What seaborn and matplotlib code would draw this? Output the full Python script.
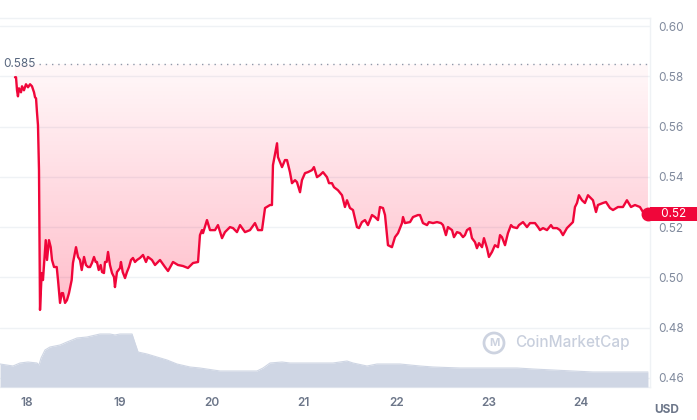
import numpy as np
import pandas as pd
import matplotlib
matplotlib.use("Agg")
import matplotlib.pyplot as plt
import matplotlib.transforms as mtransforms
from matplotlib.patches import Circle
import seaborn as sns

# price, USD (day of month)
price_day = [17.870, 17.881, 17.892, 17.902, 17.913, 17.935, 17.946, 17.967, 17.989, 18.011,
             18.033, 18.054, 18.076, 18.087, 18.098, 18.108, 18.119, 18.130, 18.141, 18.159,
             18.173, 18.203, 18.217, 18.238, 18.257, 18.271, 18.293, 18.322, 18.336, 18.358,
             18.376, 18.390, 18.412, 18.433, 18.455, 18.484, 18.498, 18.531, 18.553, 18.574,
             18.593, 18.618, 18.639, 18.661, 18.683, 18.704, 18.726, 18.744, 18.758, 18.777,
             18.798, 18.813, 18.834, 18.845, 18.863, 18.878, 18.899, 18.921, 18.943, 18.953,
             18.975, 19.008, 19.018, 19.037, 19.062, 19.083, 19.105, 19.127, 19.148, 19.170,
             19.192, 19.224, 19.257, 19.289, 19.311, 19.354, 19.387, 19.441, 19.495, 19.528,
             19.582, 19.636, 19.690, 19.744, 19.799, 19.853, 19.874, 19.896, 19.907, 19.950,
             19.983, 20.037, 20.069, 20.113, 20.145, 20.199, 20.232, 20.275, 20.308, 20.362,
             20.416, 20.470, 20.503, 20.546, 20.579, 20.633, 20.654, 20.665, 20.709, 20.719,
             20.763, 20.795, 20.817, 20.849, 20.871, 20.904, 20.925, 20.958, 20.979, 21.012,
             21.044, 21.088, 21.109, 21.142, 21.174, 21.207, 21.250, 21.272, 21.304, 21.326,
             21.369, 21.413, 21.445, 21.467, 21.499, 21.532, 21.575, 21.597, 21.629, 21.662,
             21.694, 21.738, 21.770, 21.803, 21.824, 21.857, 21.879, 21.911, 21.954, 21.987,
             22.020, 22.063, 22.074, 22.095, 22.150, 22.182, 22.236, 22.258, 22.290, 22.334,
             22.355, 22.399, 22.442, 22.485, 22.507, 22.539, 22.561, 22.605, 22.626, 22.659,
             22.691, 22.724, 22.745, 22.767, 22.799, 22.821, 22.854, 22.875, 22.897, 22.930,
             22.951, 22.984, 23.005, 23.038, 23.070, 23.103, 23.125, 23.146, 23.179, 23.211,
             23.244, 23.265, 23.309, 23.330, 23.374, 23.417, 23.450, 23.504, 23.537, 23.558,
             23.591, 23.634, 23.677, 23.699, 23.742, 23.775, 23.807, 23.850, 23.883, 23.915,
             23.937, 23.959, 23.980, 24.013, 24.045, 24.078, 24.110, 24.132, 24.165, 24.186,
             24.240, 24.273, 24.316, 24.349, 24.403, 24.457, 24.500, 24.544, 24.587, 24.641,
             24.674, 24.695, 24.728]
price_usd = [0.5797, 0.5797, 0.5745, 0.5721, 0.5753, 0.5737, 0.5761, 0.5745, 0.5769, 0.5757,
             0.5769, 0.5761, 0.5737, 0.5717, 0.5713, 0.5658, 0.5606, 0.5427, 0.4870, 0.5017,
             0.4989, 0.5148, 0.5069, 0.5148, 0.5120, 0.5069, 0.5041, 0.5041, 0.4989, 0.4898,
             0.4937, 0.4937, 0.4898, 0.4909, 0.4937, 0.4989, 0.5057, 0.5120, 0.5081, 0.5069,
             0.5029, 0.5081, 0.5049, 0.5041, 0.5041, 0.5057, 0.5081, 0.5061, 0.5061, 0.5029,
             0.5049, 0.5021, 0.5017, 0.5061, 0.5061, 0.5101, 0.5049, 0.5017, 0.5001, 0.4961,
             0.5021, 0.5037, 0.5061, 0.5021, 0.4997, 0.5021, 0.5041, 0.5069, 0.5077, 0.5061,
             0.5069, 0.5077, 0.5089, 0.5061, 0.5081, 0.5069, 0.5049, 0.5069, 0.5041, 0.5025,
             0.5061, 0.5049, 0.5045, 0.5037, 0.5057, 0.5061, 0.5168, 0.5188, 0.5176, 0.5228,
             0.5188, 0.5188, 0.5208, 0.5156, 0.5180, 0.5200, 0.5196, 0.5180, 0.5208, 0.5180,
             0.5188, 0.5216, 0.5188, 0.5188, 0.5276, 0.5288, 0.5288, 0.5447, 0.5534, 0.5479,
             0.5439, 0.5467, 0.5467, 0.5419, 0.5375, 0.5387, 0.5379, 0.5339, 0.5387, 0.5415,
             0.5419, 0.5427, 0.5439, 0.5399, 0.5407, 0.5419, 0.5399, 0.5375, 0.5375, 0.5359,
             0.5347, 0.5327, 0.5280, 0.5307, 0.5276, 0.5268, 0.5200, 0.5196, 0.5220, 0.5228,
             0.5208, 0.5248, 0.5240, 0.5228, 0.5280, 0.5276, 0.5248, 0.5128, 0.5120, 0.5160,
             0.5176, 0.5216, 0.5240, 0.5216, 0.5220, 0.5240, 0.5248, 0.5248, 0.5216, 0.5208,
             0.5220, 0.5216, 0.5220, 0.5216, 0.5208, 0.5168, 0.5200, 0.5188, 0.5160, 0.5180,
             0.5176, 0.5160, 0.5168, 0.5188, 0.5196, 0.5156, 0.5140, 0.5116, 0.5136, 0.5120,
             0.5156, 0.5116, 0.5081, 0.5101, 0.5128, 0.5120, 0.5168, 0.5160, 0.5128, 0.5176,
             0.5208, 0.5200, 0.5196, 0.5208, 0.5220, 0.5200, 0.5216, 0.5216, 0.5200, 0.5188,
             0.5196, 0.5188, 0.5208, 0.5196, 0.5196, 0.5188, 0.5168, 0.5196, 0.5208, 0.5220,
             0.5280, 0.5296, 0.5327, 0.5307, 0.5296, 0.5327, 0.5315, 0.5307, 0.5260, 0.5288,
             0.5296, 0.5300, 0.5276, 0.5268, 0.5280, 0.5280, 0.5307, 0.5280, 0.5288, 0.5280,
             0.5260, 0.5240, 0.5252]

# 24h volume, million USD
vol_day = [17.708, 17.848, 17.924, 18.011, 18.108, 18.130, 18.152, 18.195, 18.249, 18.358,
           18.433, 18.542, 18.650, 18.791, 18.899, 18.953, 19.008, 19.138, 19.170, 19.203,
           19.300, 19.408, 19.517, 19.625, 19.766, 19.874, 20.091, 20.492, 20.557, 20.633,
           20.763, 20.849, 21.174, 21.315, 21.467, 21.532, 21.684, 21.792, 22.041, 22.258,
           22.399, 22.691, 22.984, 23.309, 23.482, 23.699, 23.915, 24.132, 24.446, 24.728]
vol_musd = [23, 21, 24, 25, 24, 22, 29, 37, 40, 42,
            45, 49, 50, 53, 53, 52, 53, 53, 44, 35,
            33, 30, 27, 23, 20, 19, 16, 16, 19, 24,
            25, 24, 24, 24, 26, 24, 21, 23, 23, 21,
            20, 19, 19, 19, 18, 17, 16, 15, 15, 15]

open_price = 0.585
last_price = price_usd[-1]
y_ticks = [0.46, 0.48, 0.50, 0.52, 0.54, 0.56, 0.58, 0.60]
x_ticks = [18, 19, 20, 21, 22, 23, 24]

red = "#f0063a"
grey_txt = "#808a9d"

sns.set_style("white")
plt.rcParams["font.family"] = ["Inter", "DejaVu Sans"]

price_df = pd.DataFrame({"day": price_day, "price": price_usd})

fig = plt.figure(figsize=(6.97, 4.2), dpi=100)
ax = fig.add_axes([0, 33 / 420, 650 / 697, 369 / 420])

xlim = (17.7075, 24.75)
ylim = (0.4563, 0.6033)

# gradient fill between the line and the open price
alpha = np.linspace(0.26, 0.03, 256)
rgba = np.zeros((256, 2, 4))
rgba[..., 0] = 1.0
rgba[..., 1] = 0.0
rgba[..., 2] = 0.2
rgba[..., 3] = alpha[:, None]
im = ax.imshow(rgba, extent=[xlim[0], xlim[1], min(price_usd), open_price],
               origin="lower", aspect="auto", zorder=1, interpolation="bilinear")
poly = ax.fill_between(price_df["day"], price_df["price"], open_price,
                       color="none", lw=0)
im.set_clip_path(poly.get_paths()[0], transform=ax.transData)

sns.lineplot(data=price_df, x="day", y="price", color=red, lw=1.7, ax=ax, zorder=3)
ax.plot([price_day[-1]], [last_price], "o", color=red, ms=9, zorder=4)

ax.axhline(open_price, xmin=39 / 650, color="#8f99aa", lw=1, ls=(0, (1, 3.5)), zorder=2)
ax.text(3 / 650, open_price, "0.585", transform=mtransforms.blended_transform_factory(ax.transAxes, ax.transData),
        ha="left", va="center", fontsize=8.5, color="#58667e")

# volume
axv = ax.twinx()
axv.plot(vol_day, vol_musd, color="#cfd6e4", lw=0.8)
axv.fill_between(vol_day, vol_musd, 0, color="#cfd6e4", lw=0)
axv.set_ylim(0, 369)
axv.set_xlim(xlim)
axv.set_yticks([])
for s in axv.spines.values():
    s.set_visible(False)

ax.set_xlim(xlim)
ax.set_ylim(ylim)
ax.set_xticks(x_ticks)
ax.set_xticklabels([str(d) for d in x_ticks])
ax.set_yticks(y_ticks)
ax.set_yticklabels([f"{v:.2f}" for v in y_ticks])
ax.yaxis.tick_right()
ax.set_xlabel("")
ax.set_ylabel("")
ax.yaxis.grid(True, color="#eff2f5", lw=1)
ax.set_axisbelow(True)
ax.tick_params(axis="y", length=0, pad=6, labelsize=8.5, labelcolor=grey_txt)
ax.tick_params(axis="x", length=3, width=1, color="#eff2f5", pad=4,
               labelsize=8.5, labelcolor="#6c7689")
for lab in ax.get_xticklabels():
    lab.set_fontweight("semibold")
ax.spines["left"].set_visible(False)
for s in ["top", "right", "bottom"]:
    ax.spines[s].set_visible(True)
    ax.spines[s].set_color("#eff2f5")
    ax.spines[s].set_linewidth(1)

# last price tag
ax.text(1.0 + 24 / 650, last_price, "   0.52   ",
        transform=mtransforms.blended_transform_factory(ax.transAxes, ax.transData),
        ha="center", va="center", fontsize=8.5, color="white", clip_on=False, zorder=6,
        bbox=dict(boxstyle="square,pad=0.1", fc=red, ec="none"))

# watermark
fig.patches.append(Circle((4.94, 0.77), 0.10, transform=fig.dpi_scale_trans,
                          fill=False, ec="#cdd3e0", lw=2))
fig.text(4.94 / 6.97, 0.77 / 4.2, "M", ha="center", va="center",
         fontsize=8, fontweight="bold", color="#cdd3e0")
fig.text(515 / 697, 1 - 343 / 420, "CoinMarketCap", ha="left", va="center",
         fontsize=11, fontweight="medium", color="#c8cfdd")

fig.text(667 / 697, 1 - 410 / 420, "USD", ha="center", va="center",
         fontsize=8.5, fontweight="bold", color="#6c7689")

fig.savefig("out.png", dpi=100)
